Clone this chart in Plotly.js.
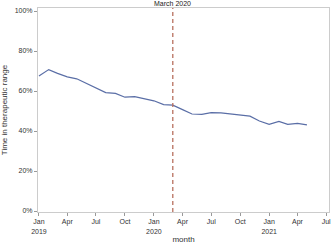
<!DOCTYPE html>
<html>
<head>
<meta charset="utf-8">
<script src="https://cdn.plot.ly/plotly-3.0.1.min.js"></script>
<style>html,body{margin:0;padding:0;background:#fff}#chart{width:332px;height:244px}</style>
</head>
<body>
<div id="chart"></div>
<script>
const months = ["2019-01-01","2019-02-01","2019-03-01","2019-04-01","2019-05-01","2019-06-01","2019-07-01","2019-08-01","2019-09-01","2019-10-01","2019-11-01","2019-12-01",
"2020-01-01","2020-02-01","2020-03-01","2020-04-01","2020-05-01","2020-06-01","2020-07-01","2020-08-01","2020-09-01","2020-10-01","2020-11-01","2020-12-01",
"2021-01-01","2021-02-01","2021-03-01","2021-04-01","2021-05-01"];
const ttr = [0.675,0.707,0.688,0.671,0.661,0.638,0.615,0.592,0.588,0.569,0.572,0.561,
0.551,0.532,0.529,0.507,0.485,0.483,0.492,0.491,0.486,0.482,0.474,0.450,
0.433,0.448,0.433,0.438,0.431];
const tickVals = ["2019-01-01","2019-04-01","2019-07-01","2019-10-01","2020-01-01","2020-04-01","2020-07-01","2020-10-01","2021-01-01","2021-04-01","2021-07-01"];
const tickText = ["Jan<br>2019","Apr","Jul","Oct","Jan<br>2020","Apr","Jul","Oct","Jan<br>2021","Apr","Jul"];
const eventDate = "2020-03-01";
const eventLabel = "March 2020";

const trace = {x: months, y: ttr, type: "scatter", mode: "lines",
  line: {color: "#5a6ea6", width: 1.2}, hoverinfo: "skip"};

const layout = {
  width: 332, height: 244,
  margin: {l: 38, r: 3, t: 8, b: 32},
  paper_bgcolor: "#fff", plot_bgcolor: "#fff",
  font: {family: "Liberation Sans, Arial, sans-serif", size: 7, color: "#333"},
  showlegend: false,
  xaxis: {type: "date", range: ["2018-12-29", "2021-07-10"],
    tickvals: tickVals, ticktext: tickText, ticks: "outside", ticklen: 3, tickcolor: "#999",
    showgrid: false, zeroline: false, showline: true, linecolor: "#ccc", linewidth: 1, mirror: true,
    tickfont: {size: 7, color: "#333"},
    title: {text: "month", font: {size: 8, color: "#333"}, standoff: 8}},
  yaxis: {range: [-0.005, 1.015], tickvals: [0,0.2,0.4,0.6,0.8,1.0], tickformat: ".0%",
    ticks: "outside", ticklen: 3, tickcolor: "#999",
    showgrid: false, zeroline: false, showline: true, linecolor: "#ccc", linewidth: 1, mirror: true,
    tickfont: {size: 7, color: "#333"},
    title: {text: "Time in therapeutic range", font: {size: 8, color: "#333"}, standoff: 6}},
  shapes: [{type: "line", xref: "x", yref: "paper", x0: eventDate, x1: eventDate, y0: 0, y1: 1,
    line: {color: "#b8705f", width: 1.3, dash: "4px,3px"}}],
  annotations: [{x: eventDate, xref: "x", y: 1, yref: "paper", yanchor: "bottom", showarrow: false,
    text: eventLabel, font: {size: 7, color: "#222"}, yshift: -1}]
};
Plotly.newPlot("chart", [trace], layout, {staticPlot: true, displayModeBar: false});
</script>
</body>
</html>
